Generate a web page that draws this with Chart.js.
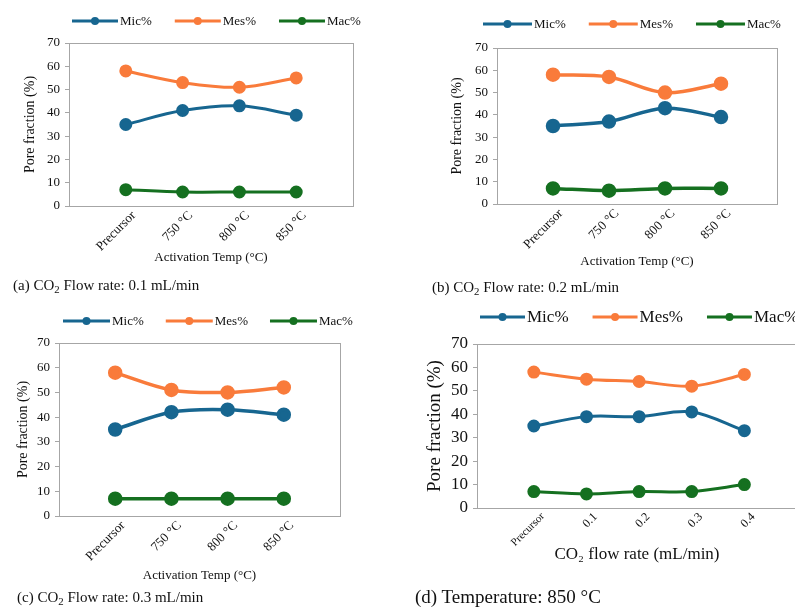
<!DOCTYPE html>
<html>
<head>
<meta charset="utf-8">
<script src="https://cdn.jsdelivr.net/npm/chart.js@4.4.1/dist/chart.umd.min.js"></script>
<style>
html, body { margin: 0; padding: 0; overflow: hidden; background: #fff; }
body { width: 795px; height: 608px; position: relative; font-family: "Liberation Serif", "Times New Roman", serif; color: #111; }
canvas { position: absolute; }
.cap { position: absolute; white-space: nowrap; line-height: 1; }
.cap sub { font-size: 0.72em; vertical-align: -0.3em; line-height: 0; }
</style>
</head>
<body>
<canvas id="chartA" width="400" height="300" style="left:0;top:0"></canvas>
<canvas id="chartB" width="400" height="300" style="left:400px;top:0"></canvas>
<canvas id="chartC" width="400" height="308" style="left:0;top:300px"></canvas>
<canvas id="chartD" width="405" height="308" style="left:400px;top:300px"></canvas>

<div class="cap" style="left:13px;top:278px;font-size:15px">(a) CO<sub>2</sub> Flow rate: 0.1 mL/min</div>
<div class="cap" style="left:432px;top:280px;font-size:15px">(b) CO<sub>2</sub> Flow rate: 0.2 mL/min</div>
<div class="cap" style="left:17px;top:590px;font-size:15px">(c) CO<sub>2</sub> Flow rate: 0.3 mL/min</div>
<div class="cap" style="left:415px;top:587px;font-size:19px">(d) Temperature: 850 °C</div>

<script>
// categorieen op de x-as
var tempLabels = ["Precursor", "750 °C", "800 °C", "850 °C"];
var flowLabels = ["Precursor", "0.1", "0.2", "0.3", "0.4"];

// (a) CO2 0.1 mL/min
var micA = [35, 41, 43, 39];
var mesA = [58, 53, 51, 55];
var macA = [7, 6, 6, 6];
// (b) CO2 0.2 mL/min
var micB = [35, 37, 43, 39];
var mesB = [58, 57, 50, 54];
var macB = [7, 6, 7, 7];
// (c) CO2 0.3 mL/min
var micC = [35, 42, 43, 41];
var mesC = [58, 51, 50, 52];
var macC = [7, 7, 7, 7];
// (d) 850 °C
var micD = [35, 39, 39, 41, 33];
var mesD = [58, 55, 54, 52, 57];
var macD = [7, 6, 7, 7, 10];

// y-as ticks
var yTicks = [0, 10, 20, 30, 40, 50, 60, 70];

var seriesNames = ["Mic%", "Mes%", "Mac%"];
var seriesColors = ["#176690", "#f97b3b", "#157020"];

Chart.defaults.font.family = '"Liberation Serif", "Times New Roman", serif';
Chart.defaults.color = "#111";

// legenda met lijntje en bolletje
var lineLegend = {
    id: "lineLegend",
    afterDraw: function (chart, args, o) {
        var ctx = chart.ctx;
        var x = o.x;
        ctx.save();
        ctx.font = o.size + 'px "Liberation Serif", serif';
        ctx.textBaseline = "middle";
        chart.data.datasets.forEach(function (ds) {
            ctx.strokeStyle = ds.borderColor;
            ctx.lineWidth = 3;
            ctx.beginPath();
            ctx.moveTo(x, o.y);
            ctx.lineTo(x + o.len, o.y);
            ctx.stroke();
            ctx.fillStyle = ds.borderColor;
            ctx.beginPath();
            ctx.arc(x + o.len / 2, o.y, 4, 0, Math.PI * 2);
            ctx.fill();
            ctx.fillStyle = "#111";
            ctx.fillText(ds.label, x + o.len + 2, o.y + 1);
            x += o.len + 2 + ctx.measureText(ds.label).width + o.gap;
        });
        ctx.restore();
    }
};

// grijze rand om het plotgebied
var plotBox = {
    id: "plotBox",
    beforeDatasetsDraw: function (chart) {
        var a = chart.chartArea;
        var ctx = chart.ctx;
        ctx.save();
        ctx.strokeStyle = "#a6a6a6";
        ctx.lineWidth = 1;
        ctx.strokeRect(Math.round(a.left) + 0.5, Math.round(a.top) + 0.5, Math.round(a.right - a.left), Math.round(a.bottom - a.top));
        ctx.restore();
    }
};

function makePanel(id, labels, mic, mes, mac, s) {
    var series = [mic, mes, mac];
    var ctx = document.getElementById(id).getContext("2d");
    return new Chart(ctx, {
        type: "line",
        data: {
            datasets: series.map(function (vals, k) {
                return {
                    label: seriesNames[k],
                    data: vals.map(function (v, i) { return { x: i + 1, y: v }; }),
                    borderColor: seriesColors[k],
                    backgroundColor: seriesColors[k],
                    borderWidth: s.lw,
                    pointRadius: s.r,
                    pointHoverRadius: s.r,
                    tension: 0.35
                };
            })
        },
        options: {
            responsive: false,
            animation: false,
            events: [],
            layout: { padding: { top: s.padT, right: s.padR, bottom: s.padB, left: 0 } },
            plugins: {
                legend: { display: false },
                tooltip: { enabled: false },
                lineLegend: s.legend
            },
            scales: {
                x: {
                    type: "linear",
                    min: s.xMin,
                    max: s.xMax,
                    afterBuildTicks: function (axis) {
                        axis.ticks = labels.map(function (l, i) { return { value: i + 1 }; });
                    },
                    afterFit: function (axis) { axis.height = s.xH; },
                    grid: { display: false, drawTicks: false },
                    border: { display: false },
                    ticks: {
                        autoSkip: false,
                        maxRotation: 45,
                        minRotation: 45,
                        padding: 2,
                        labelOffset: s.labelOffset,
                        font: function (c) { return { size: c.index === 0 ? s.xTick0 : s.xTick }; },
                        callback: function (v) { return labels[v - 1]; }
                    },
                    title: { display: true, text: s.xTitle, font: { size: s.xTitleSize }, padding: 0 }
                },
                y: {
                    min: 0,
                    max: 70,
                    afterBuildTicks: function (axis) {
                        axis.ticks = yTicks.map(function (v) { return { value: v }; });
                    },
                    afterFit: function (axis) { axis.width = s.yW; },
                    grid: { display: true, drawOnChartArea: false, drawTicks: true, tickLength: 4, color: "#a6a6a6" },
                    border: { display: false },
                    ticks: { padding: 5, font: { size: s.yTick } },
                    title: { display: true, text: "Pore fraction (%)", font: { size: s.yTitleSize }, padding: { top: s.yTitlePad, bottom: 0 } }
                }
            }
        },
        plugins: [plotBox, lineLegend]
    });
}

window.onload = function () {
    makePanel("chartA", tempLabels, micA, mesA, macA, {
        padT: 43, padR: 47, padB: 35, yW: 69, xH: 59, xMin: 0, xMax: 5,
        xTick0: 13, xTick: 13, yTick: 13, xTitleSize: 13, yTitleSize: 14, yTitlePad: 21.6,
        labelOffset: 8, lw: 3, r: 5, xTitle: "Activation Temp (°C)",
        legend: { x: 72, y: 21, len: 46, gap: 23, size: 13 }
    });
    makePanel("chartB", tempLabels, micB, mesB, macB, {
        padT: 48, padR: 23, padB: 31, yW: 97, xH: 65, xMin: 0, xMax: 5,
        xTick0: 13, xTick: 13, yTick: 13, xTitleSize: 13, yTitleSize: 14, yTitlePad: 48.6,
        labelOffset: 8, lw: 3.5, r: 5.5, xTitle: "Activation Temp (°C)",
        legend: { x: 83, y: 24, len: 49, gap: 23, size: 13 }
    });
    makePanel("chartC", tempLabels, micC, mesC, macC, {
        padT: 43, padR: 60, padB: 25, yW: 59, xH: 67, xMin: 0, xMax: 5,
        xTick0: 13, xTick: 13, yTick: 13, xTitleSize: 13, yTitleSize: 14, yTitlePad: 14.6,
        labelOffset: 8, lw: 3.5, r: 5.5, xTitle: "Activation Temp (°C)",
        legend: { x: 63, y: 21, len: 47, gap: 22, size: 13 }
    });
    makePanel("chartD", flowLabels, micD, mesD, macD, {
        padT: 44, padR: 2, padB: 43, yW: 77, xH: 57, xMin: -0.08, xMax: 6,
        xTick0: 11, xTick: 12, yTick: 17, xTitleSize: 17, yTitleSize: 19, yTitlePad: 23.6,
        labelOffset: 9, lw: 3, r: 5, xTitle: "CO₂ flow rate (mL/min)",
        legend: { x: 80, y: 17, len: 45, gap: 24, size: 17 }
    });
};
</script>
</body>
</html>
